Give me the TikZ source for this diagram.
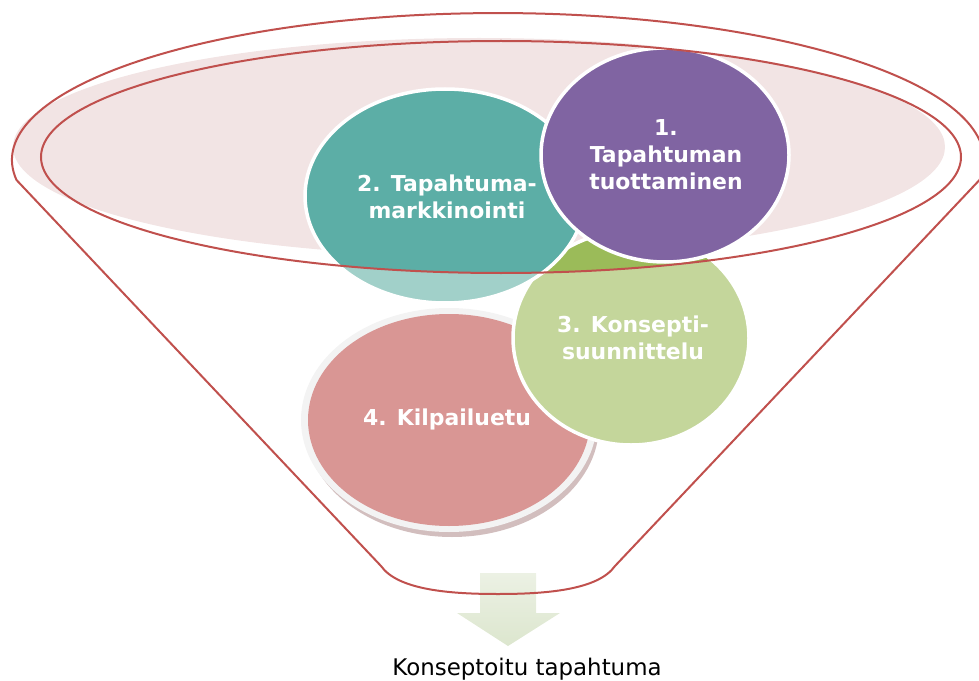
\documentclass[tikz,border=0pt]{standalone}
\usepackage{fontspec}
\setmainfont{DejaVu Sans}
\begin{document}
\begin{tikzpicture}[x=1bp,y=-1bp]
  \definecolor{funnelred}{RGB}{192,80,77}
  \definecolor{rimpink}{RGB}{242,228,228}
  \definecolor{purplec}{RGB}{128,100,162}
  \definecolor{tealdark}{RGB}{92,174,166}
  \definecolor{teallight}{RGB}{161,208,201}
  \definecolor{greendark}{RGB}{155,187,89}
  \definecolor{greenlight}{RGB}{196,214,155}
  \definecolor{rosec}{RGB}{217,150,148}
  \definecolor{ringc}{RGB}{243,243,243}
  \definecolor{shadowc}{RGB}{210,190,190}
  \definecolor{arrowtop}{RGB}{236,241,228}
  \definecolor{arrowbot}{RGB}{220,230,206}
  \tikzset{
    funnelline/.style={draw=funnelred, line width=2bp},
    bubbleedge/.style={draw=white, line width=3.5bp},
    lbl/.style={text=white, font=\fontsize{22}{27}\selectfont\bfseries, align=center, inner sep=0pt},
    caption/.style={text=black, font=\fontsize{23}{27}\selectfont, inner sep=0pt}
  }
  \useasboundingbox (0,0) rectangle (979,681);

  % centres of the four bubbles and the rim
  \coordinate (c1) at (665,155);
  \coordinate (c2) at (445,196);
  \coordinate (c3) at (631,338);
  \coordinate (c4) at (449,420);
  \coordinate (rim) at (501,157);

  % pink opening of the funnel
  \fill[rimpink] (479,147) ellipse[x radius=466, y radius=109];

  % output arrow
  \shade[top color=arrowtop, bottom color=arrowbot]
    (480,573) -- (536,573) -- (536,613) -- (560,613) -- (508,646)
    -- (457,613) -- (480,613) -- cycle;

  % bubble 4
  \fill[shadowc] ([shift={(3,5)}]c4) ellipse[x radius=147, y radius=112];
  \fill[ringc] (c4) ellipse[x radius=148, y radius=112];
  \fill[rosec] (c4) ellipse[x radius=141, y radius=106];

  % bubble 3
  \fill[greenlight] (c3) ellipse[x radius=118, y radius=107];
  \begin{scope}
    \clip (rim) ellipse[x radius=460, y radius=116];
    \fill[greendark] (c3) ellipse[x radius=118, y radius=107];
  \end{scope}
  \draw[bubbleedge] (c3) ellipse[x radius=118, y radius=107];

  % bubble 2
  \fill[teallight] (c2) ellipse[x radius=140, y radius=107];
  \begin{scope}
    \clip (rim) ellipse[x radius=460, y radius=116];
    \fill[tealdark] (c2) ellipse[x radius=140, y radius=107];
  \end{scope}
  \draw[bubbleedge] (c2) ellipse[x radius=140, y radius=107];

  % bubble 1
  \fill[purplec] (c1) ellipse[x radius=124, y radius=107];
  \draw[bubbleedge] (c1) ellipse[x radius=124, y radius=107];

  % funnel outline
  \draw[funnelline] (381,566) -- (16.5,180)
    arc[start angle=172.2, end angle=367.8, x radius=486, y radius=147]
    -- (615,566) .. controls (598,590) and (546,594) .. (498,594)
    .. controls (450,594) and (398,590) .. (381,566);
  \draw[funnelline] (rim) ellipse[x radius=460, y radius=116];

  % labels
  \node[lbl] (t1) at (666,155) {1.\\Tapahtuman\\tuottaminen};
  \node[lbl] (t2) at (447,197) {2. Tapahtuma-\\markkinointi};
  \node[lbl] (t3) at (633,338) {3. Konsepti-\\suunnittelu};
  \node[lbl, anchor=base] (t4) at (447,425) {4. Kilpailuetu};
  \node[caption, anchor=base] (out) at (527,675) {Konseptoitu tapahtuma};
\end{tikzpicture}
\end{document}
